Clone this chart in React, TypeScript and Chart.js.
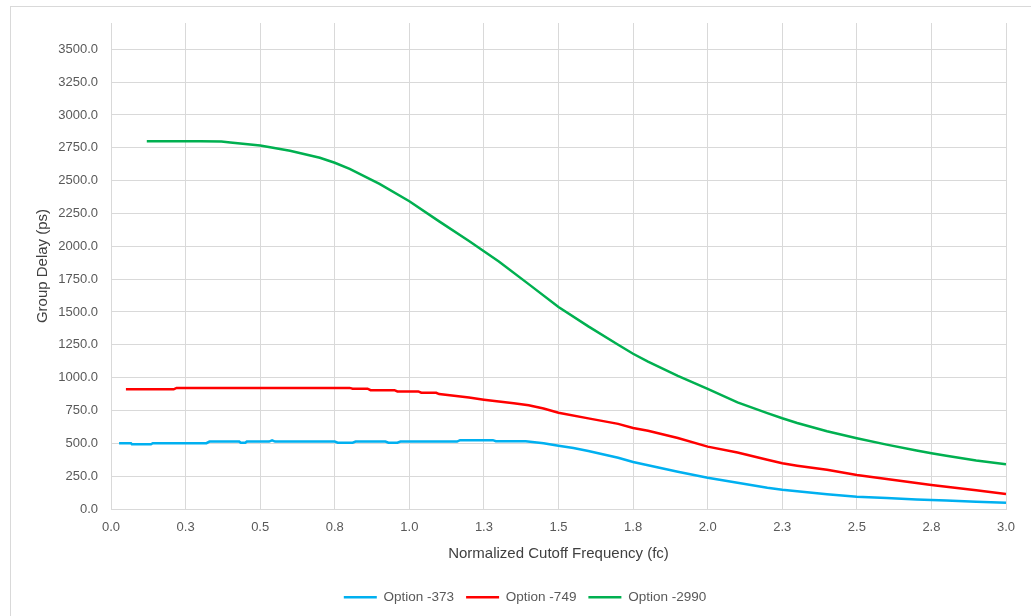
import React, { useEffect, useRef } from "react";
import { Chart, registerables } from "chart.js";

Chart.register(...registerables);

const seriesNames = ["Option -373", "Option -749", "Option -2990"];
const seriesColors = ["#00B0F0", "#FF0000", "#00B050"];

const blueX = [0.027, 0.067, 0.07, 0.134, 0.14, 0.32, 0.33, 0.43, 0.435, 0.45, 0.455, 0.53, 0.54, 0.55, 0.75, 0.76, 0.81, 0.82, 0.92, 0.93, 0.96, 0.97, 1.16, 1.17, 1.28, 1.29, 1.39, 1.45, 1.5, 1.55, 1.6, 1.7, 1.75, 1.8, 1.9, 2.0, 2.1, 2.2, 2.25, 2.3, 2.4, 2.5, 2.6, 2.7, 2.75, 2.8, 2.9, 3.0];
const blueY = [501, 501, 493, 493, 501, 501, 513, 513, 505, 505, 513, 513, 522, 513, 513, 505, 505, 513, 513, 505, 505, 513, 513, 524, 524, 516, 515, 500, 482, 465, 442, 390, 358, 333, 283, 238, 200, 162, 146, 136, 113, 94, 83, 73, 69, 65, 56, 48];

const redX = [0.05, 0.21, 0.22, 0.8, 0.81, 0.86, 0.87, 0.95, 0.96, 1.03, 1.04, 1.09, 1.1, 1.15, 1.2, 1.25, 1.3, 1.35, 1.4, 1.45, 1.5, 1.6, 1.7, 1.75, 1.8, 1.9, 2.0, 2.1, 2.2, 2.25, 2.3, 2.4, 2.5, 2.6, 2.7, 2.75, 2.8, 2.9, 3.0];
const redY = [911, 911, 922, 922, 916, 916, 905, 905, 895, 895, 885, 885, 875, 862, 848, 832, 818, 805, 790, 765, 733, 690, 648, 617, 595, 540, 475, 430, 375, 348, 330, 298, 259, 228, 198, 183, 170, 142, 114];

const greenX = [0.12, 0.2, 0.3, 0.37, 0.4, 0.5, 0.6, 0.7, 0.75, 0.8, 0.9, 1.0, 1.1, 1.2, 1.25, 1.3, 1.4, 1.5, 1.6, 1.7, 1.75, 1.8, 1.9, 2.0, 2.1, 2.2, 2.25, 2.3, 2.4, 2.5, 2.6, 2.7, 2.75, 2.8, 2.9, 3.0];
const greenY = [2800, 2800, 2800, 2798, 2790, 2768, 2728, 2674, 2636, 2590, 2475, 2343, 2190, 2040, 1962, 1885, 1712, 1538, 1390, 1250, 1182, 1122, 1014, 915, 812, 730, 691, 655, 592, 539, 490, 445, 424, 405, 370, 341];

const yTicks = [0, 250, 500, 750, 1000, 1250, 1500, 1750, 2000, 2250, 2500, 2750, 3000, 3250, 3500];

const xTitle = "Normalized Cutoff Frequency (fc)";
const yTitle = "Group Delay (ps)";

const FONT = "'Liberation Sans', Arial, sans-serif";
const TEXT = "#595959";
const GRID = "#d9d9d9";

function toPoints(xs: number[], ys: number[]) {
  return xs.map((x, i) => ({ x, y: ys[i] }));
}

const borderPlugin = {
  id: "outerBorder",
  beforeDraw(chart: any) {
    const ctx = chart.ctx;
    ctx.save();
    ctx.fillStyle = "#ffffff";
    ctx.fillRect(0, 0, chart.width, chart.height);
    ctx.strokeStyle = GRID;
    ctx.lineWidth = 1;
    ctx.strokeRect(10.5, 6.5, 1200, 800);
    ctx.restore();
  },
};

const legendShiftPlugin = {
  id: "legendShift",
  afterLayout(chart: any) {
    const l = chart.legend;
    if (l) {
      l.left += 22;
      l.right += 22;
    }
  },
};

export default function App() {
  const ref = useRef<HTMLCanvasElement | null>(null);

  useEffect(() => {
    if (!ref.current) return;
    const data = [toPoints(blueX, blueY), toPoints(redX, redY), toPoints(greenX, greenY)];
    const chart = new Chart(ref.current, {
      type: "line",
      data: {
        datasets: data.map((d, i) => ({
          label: seriesNames[i],
          data: d,
          borderColor: seriesColors[i],
          backgroundColor: seriesColors[i],
          borderWidth: 2.5,
          pointRadius: 0,
          tension: 0,
          fill: false,
        })),
      },
      plugins: [borderPlugin, legendShiftPlugin],
      options: {
        animation: false,
        responsive: false,
        maintainAspectRatio: false,
        layout: { padding: { top: 23, right: 25, left: 0, bottom: 2 } },
        plugins: {
          tooltip: { enabled: false },
          legend: {
            position: "bottom",
            labels: {
              boxWidth: 33,
              boxHeight: 2.5,
              padding: 12,
              color: TEXT,
              font: { family: FONT, size: 13.5 },
              generateLabels: (c: any) => {
                const items = Chart.defaults.plugins.legend.labels.generateLabels(c);
                return items.map((it: any) => ({ ...it, lineWidth: 0, fillStyle: it.strokeStyle }));
              },
            },
          },
        },
        scales: {
          x: {
            type: "linear",
            min: 0,
            max: 3,
            afterFit: (s: any) => {
              s.height = 69.5;
            },
            ticks: {
              stepSize: 0.25,
              color: TEXT,
              font: { family: FONT, size: 13 },
              padding: 11,
              maxRotation: 0,
              autoSkip: false,
              callback: (v: any) => Number(v).toFixed(1),
            },
            grid: { color: GRID, drawTicks: false, lineWidth: 1 },
            border: { color: GRID },
            title: {
              display: true,
              text: xTitle,
              color: "#404040",
              font: { family: FONT, size: 15 },
              padding: { top: 0, bottom: 15.5 },
            },
          },
          y: {
            type: "linear",
            min: 0,
            max: 3700,
            afterFit: (s: any) => {
              s.width = 111;
            },
            afterBuildTicks: (s: any) => {
              s.ticks = yTicks.map((v) => ({ value: v }));
            },
            ticks: {
              color: TEXT,
              font: { family: FONT, size: 13 },
              padding: 13,
              callback: (v: any) => Number(v).toFixed(1),
            },
            grid: { color: GRID, drawTicks: false, lineWidth: 1 },
            border: { color: GRID },
            title: {
              display: true,
              text: yTitle,
              color: "#404040",
              font: { family: FONT, size: 15 },
              padding: { top: 34, bottom: 0 },
            },
          },
        },
      },
    } as any);
    return () => chart.destroy();
  }, []);

  return (
    <div style={{ position: "fixed", left: 0, top: 0, width: 1031, height: 616, background: "#fff" }}>
      <canvas ref={ref} width={1031} height={616} style={{ width: 1031, height: 616 }} />
    </div>
  );
}
